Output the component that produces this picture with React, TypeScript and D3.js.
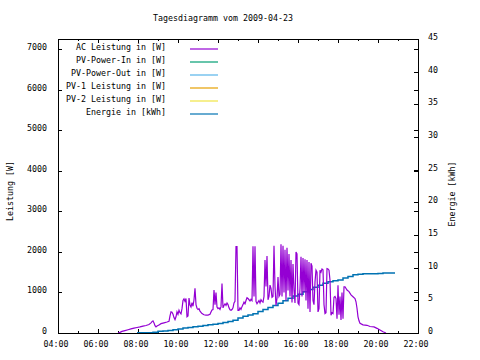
import React from "react";
import * as d3 from "d3";

const chartTitle = "Tagesdiagramm vom 2009-04-23";
const day = "2009-04-23";
const xStart = "04:00";
const xEnd = "22:00";
const leftTicks = [0, 1000, 2000, 3000, 4000, 5000, 6000, 7000];
const rightTicks = [0, 5, 10, 15, 20, 25, 30, 35, 40, 45];
const leftMax = 7250;
const rightMax = 45;
const leftTitle = "Leistung [W]";
const rightTitle = "Energie [kWh]";

const legendLabels = [
  "AC Leistung in [W]",
  "PV-Power-In in [W]",
  "PV-Power-Out in [W]",
  "PV-1 Leistung in [W]",
  "PV-2 Leistung in [W]",
  "Energie in [kWh]",
];
const legendColors = ["#9400d3", "#009e73", "#56b4e9", "#e69f00", "#f0e442", "#0072b2"];

// AC Leistung [W]
const acSeries: [string, number][] = [
  ["07:00", 0], ["07:06", 15], ["07:12", 40], ["07:21", 60], ["07:30", 80], ["07:39", 100],
  ["07:48", 120], ["07:57", 135], ["08:06", 150], ["08:15", 170], ["08:24", 185], ["08:33", 210],
  ["08:39", 250], ["08:42", 280], ["08:45", 300], ["08:48", 250], ["08:51", 180], ["08:54", 150],
  ["08:57", 170], ["09:03", 200], ["09:09", 230], ["09:18", 250], ["09:27", 270], ["09:33", 290],
  ["09:36", 420], ["09:39", 520], ["09:42", 510], ["09:45", 460], ["09:48", 380], ["09:51", 330],
  ["09:54", 400], ["09:57", 520], ["10:00", 460], ["10:03", 560], ["10:06", 500], ["10:09", 470],
  ["10:12", 600], ["10:15", 800], ["10:18", 840], ["10:21", 780], ["10:24", 850], ["10:27", 400],
  ["10:30", 420], ["10:33", 860], ["10:36", 690], ["10:39", 640], ["10:42", 750], ["10:45", 660],
  ["10:48", 820], ["10:51", 1100], ["10:54", 700], ["10:57", 610], ["11:00", 580], ["11:03", 600],
  ["11:06", 540], ["11:12", 480], ["11:18", 450], ["11:24", 440], ["11:30", 440], ["11:36", 460],
  ["11:39", 520], ["11:42", 570], ["11:45", 580], ["11:48", 1060], ["11:51", 700], ["11:54", 1000],
  ["11:57", 640], ["12:00", 600], ["12:03", 620], ["12:06", 580], ["12:09", 650], ["12:12", 1220],
  ["12:15", 620], ["12:18", 680], ["12:21", 720], ["12:24", 680], ["12:27", 740], ["12:30", 700],
  ["12:33", 620], ["12:36", 570], ["12:39", 560], ["12:42", 580], ["12:45", 620], ["12:48", 740],
  ["12:51", 780], ["12:54", 2130], ["12:57", 2130], ["13:00", 560], ["13:03", 560], ["13:06", 620],
  ["13:09", 580], ["13:12", 650], ["13:15", 700], ["13:18", 760], ["13:21", 720], ["13:24", 800],
  ["13:27", 870], ["13:30", 850], ["13:33", 820], ["13:36", 790], ["13:39", 830], ["13:42", 800],
  ["13:45", 2140], ["13:48", 900], ["13:51", 2140], ["13:54", 780], ["13:57", 720], ["14:00", 760],
  ["14:03", 800], ["14:06", 740], ["14:09", 820], ["14:12", 780], ["14:15", 760], ["14:18", 900],
  ["14:21", 1800], ["14:24", 1150], ["14:27", 1900], ["14:30", 820], ["14:33", 900], ["14:36", 1180],
  ["14:39", 1100], ["14:42", 880], ["14:45", 900], ["14:48", 2150], ["14:51", 1150], ["14:54", 680],
  ["14:57", 850], ["15:00", 1380], ["15:03", 900], ["15:06", 950], ["15:09", 2190], ["15:12", 900],
  ["15:15", 2150], ["15:18", 1000], ["15:21", 2050], ["15:24", 800], ["15:27", 2100], ["15:30", 1050],
  ["15:33", 1950], ["15:36", 900], ["15:39", 1800], ["15:42", 750], ["15:45", 1700], ["15:48", 1050],
  ["15:51", 740], ["15:54", 2000], ["15:57", 1950], ["16:00", 740], ["16:03", 700], ["16:06", 1100],
  ["16:09", 1880], ["16:12", 900], ["16:15", 1850], ["16:18", 1000], ["16:21", 1820], ["16:24", 800],
  ["16:27", 1800], ["16:30", 600], ["16:33", 1750], ["16:36", 520], ["16:39", 1720], ["16:42", 1650],
  ["16:45", 800], ["16:48", 700], ["16:51", 1260], ["16:54", 1550], ["16:57", 1500], ["17:00", 520],
  ["17:03", 600], ["17:06", 1550], ["17:09", 1500], ["17:12", 1580], ["17:15", 1560], ["17:18", 700],
  ["17:21", 480], ["17:24", 500], ["17:27", 1590], ["17:30", 1580], ["17:33", 1550], ["17:36", 1300],
  ["17:39", 440], ["17:42", 500], ["17:45", 480], ["17:48", 880], ["17:51", 900], ["17:54", 850],
  ["17:57", 350], ["18:00", 1180], ["18:03", 450], ["18:06", 900], ["18:09", 320], ["18:12", 1000],
  ["18:15", 350], ["18:18", 1140], ["18:21", 1140], ["18:27", 1060], ["18:33", 1020], ["18:39", 940],
  ["18:45", 895], ["18:51", 850], ["18:54", 770], ["18:57", 610], ["19:00", 400], ["19:03", 300],
  ["19:06", 240], ["19:15", 200], ["19:27", 190], ["19:36", 160], ["19:48", 150], ["19:57", 115],
  ["20:06", 75], ["20:15", 30], ["20:24", 0],
];

// Energie [kWh]
const energySeries: [string, number][] = [
  ["07:57", 0.05], ["08:15", 0.05], ["08:30", 0.05], ["08:45", 0.1], ["09:00", 0.25], ["09:15", 0.3],
  ["09:30", 0.4], ["09:45", 0.5], ["10:00", 0.6], ["10:15", 0.75], ["10:30", 0.85], ["10:45", 0.95],
  ["11:00", 1.05], ["11:15", 1.15], ["11:30", 1.25], ["11:45", 1.35], ["12:00", 1.45], ["12:15", 1.6],
  ["12:30", 1.75], ["12:45", 1.95], ["13:00", 2.3], ["13:15", 2.55], ["13:30", 2.75], ["13:45", 2.95],
  ["14:00", 3.3], ["14:15", 3.6], ["14:30", 3.9], ["14:45", 4.2], ["15:00", 4.55], ["15:15", 4.95],
  ["15:30", 5.3], ["15:45", 5.65], ["16:00", 5.95], ["16:15", 6.3], ["16:30", 6.65], ["16:45", 7.0],
  ["17:00", 7.3], ["17:15", 7.6], ["17:30", 7.85], ["17:45", 8.0], ["18:00", 8.1], ["18:15", 8.4],
  ["18:30", 8.65], ["18:45", 8.9], ["19:00", 9.0], ["19:15", 9.05], ["19:30", 9.05], ["19:45", 9.05],
  ["20:00", 9.1], ["20:15", 9.2], ["20:30", 9.2], ["20:51", 9.2],
];

const parse = d3.timeParse("%Y-%m-%d %H:%M");
const toDate = (t: string) => parse(`${day} ${t}`) as Date;

const FONT = "'DejaVu Sans Mono', monospace";
const FS = 8.3;

export default function App() {
  const L = 58, R = 418, T = 39, B = 333;
  const x = d3.scaleTime().domain([toDate(xStart), toDate(xEnd)]).range([L, R]);
  const yL = d3.scaleLinear().domain([0, leftMax]).range([B, T]);
  const yR = d3.scaleLinear().domain([0, rightMax]).range([B, T]);

  const majorX = x.ticks(d3.timeHour.every(2) as d3.TimeInterval);
  const minorX = x.ticks(d3.timeHour.every(1) as d3.TimeInterval).filter((d) => d.getHours() % 2 === 1);
  const fmt = d3.timeFormat("%H:%M");

  const acLine = d3
    .line<[string, number]>()
    .x((d) => x(toDate(d[0])))
    .y((d) => yL(d[1]))(acSeries) as string;
  const enLine = d3
    .line<[string, number]>()
    .curve(d3.curveStepAfter)
    .x((d) => x(toDate(d[0])))
    .y((d) => yR(d[1]))(energySeries) as string;

  return (
    <svg
      width={480}
      height={360}
      style={{ position: "absolute", left: 0, top: 0, background: "#fff", display: "block" }}
      fontFamily={FONT}
      fontSize={FS}
    >
      <rect x={0} y={0} width={480} height={360} fill="#fff" />
      <text x={223} y={21} textAnchor="middle" fill="#000">{chartTitle}</text>

      {/* ticks */}
      <g stroke="#000" strokeWidth={1} shapeRendering="crispEdges">
        {leftTicks.map((v) => (
          <g key={"l" + v}>
            <line x1={L} x2={L + 4} y1={Math.round(yL(v)) + 0.5} y2={Math.round(yL(v)) + 0.5} />
            <line x1={R - 4} x2={R} y1={Math.round(yL(v)) + 0.5} y2={Math.round(yL(v)) + 0.5} />
          </g>
        ))}
        {rightTicks.map((v) => (
          <line key={"r" + v} x1={R - 4} x2={R} y1={Math.round(yR(v)) + 0.5} y2={Math.round(yR(v)) + 0.5} />
        ))}
        {majorX.map((d, i) => (
          <g key={"mx" + i}>
            <line x1={Math.round(x(d)) + 0.5} x2={Math.round(x(d)) + 0.5} y1={B} y2={B - 4} />
            <line x1={Math.round(x(d)) + 0.5} x2={Math.round(x(d)) + 0.5} y1={T} y2={T + 4} />
          </g>
        ))}
        {minorX.map((d, i) => (
          <g key={"nx" + i}>
            <line x1={Math.round(x(d)) + 0.5} x2={Math.round(x(d)) + 0.5} y1={B} y2={B - 2} />
            <line x1={Math.round(x(d)) + 0.5} x2={Math.round(x(d)) + 0.5} y1={T} y2={T + 2} />
          </g>
        ))}
      </g>

      {/* tick labels */}
      {leftTicks.map((v) => (
        <text key={"tl" + v} x={47} y={yL(v) + 1} textAnchor="end" fill="#000">{v}</text>
      ))}
      {rightTicks.map((v) => (
        <text key={"tr" + v} x={428} y={yR(v) + 1} textAnchor="start" fill="#000">{v}</text>
      ))}
      {majorX.map((d, i) => (
        <text key={"tx" + i} x={x(d) - 2} y={347} textAnchor="middle" fill="#000">{fmt(d)}</text>
      ))}

      <text transform="translate(13,191) rotate(-90)" textAnchor="middle" fill="#000">{leftTitle}</text>
      <text transform="translate(455,194) rotate(-90)" textAnchor="middle" fill="#000">{rightTitle}</text>

      {/* data */}
      <path d={enLine} fill="none" stroke={legendColors[5]} strokeWidth={1.5} />
      <path d={acLine} fill="none" stroke={legendColors[0]} strokeWidth={1.2} />

      {/* legend */}
      {legendLabels.map((lab, i) => (
        <g key={"lg" + i}>
          <text x={166} y={49 + 13 * i + 1} textAnchor="end" fill="#000">{lab}</text>
          <line x1={190} x2={218} y1={49 + 13 * i} y2={49 + 13 * i} stroke={legendColors[i]} strokeWidth={1.2} />
        </g>
      ))}

      {/* border */}
      <rect x={L + 0.5} y={T + 0.5} width={R - L} height={B - T} fill="none" stroke="#000" strokeWidth={1} shapeRendering="crispEdges" />
    </svg>
  );
}
